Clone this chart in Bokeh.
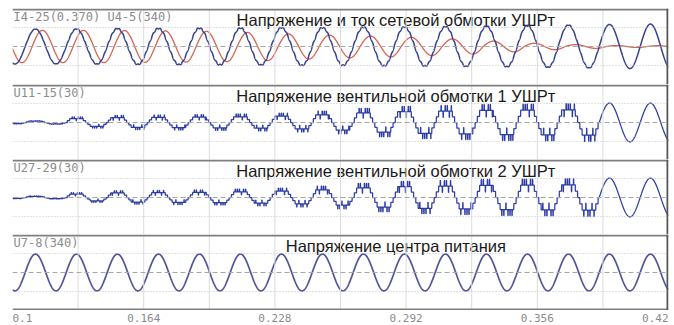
import numpy as np
from bokeh.plotting import figure
from bokeh.layouts import column
from bokeh.models import Range1d, Span
from bokeh.core.properties import value
from bokeh.embed import file_html
from bokeh.resources import INLINE

# ---------------- data ----------------
T_START, T_END = 0.1, 0.42          # time axis, s
FREQ = 50.0                         # Hz
T_PEAK1 = 0.1112                    # first positive peak of the voltages, s
CURRENT_LAG = 0.0034                # lag of the network current, s

TICKS = [0.1, 0.164, 0.228, 0.292, 0.356, 0.42]
TICK_LABELS = ["0.1", "0.164", "0.228", "0.292", "0.356", "0.42"]
GRID_STEP = 0.032

TITLES = [
    "Напряжение и ток сетевой обмотки УШРт",
    "Напряжение вентильной обмотки 1 УШРт",
    "Напряжение вентильной обмотки 2 УШРт",
    "Напряжение центра питания",
]
CHANNELS = ["I4-25(0.370) U4-5(340)", "U11-15(30)", "U27-29(30)", "U7-8(340)"]

# per-cycle amplitudes (divisions), cycles 0..16 (cycle 0 is the partial one at t=0.1)
AMP_NET_U = [0.92, 0.92, 0.93, 0.95, 0.96, 0.97, 0.98, 1.0, 1.0, 1.02, 1.03, 1.05, 1.07, 1.1, 1.13, 1.16, 1.18]
RIPPLE_NET_U = [0.0, 0.01, 0.02, 0.03, 0.035, 0.035, 0.035, 0.035, 0.035, 0.035, 0.035, 0.035, 0.035, 0.03, 0.02, 0.0, 0.0]
AMP_NET_I = [0.85, 0.85, 0.85, 0.84, 0.82, 0.8, 0.74, 0.66, 0.6, 0.55, 0.48, 0.4, 0.28, 0.17, 0.1, 0.05, 0.04]
AMP_VALVE_1 = [0.08, 0.1, 0.3, 0.38, 0.4, 0.42, 0.45, 0.5, 0.6, 0.75, 0.85, 0.9, 0.95, 0.97, 1.0, 1.02, 1.02]
AMP_VALVE_2 = [0.07, 0.09, 0.26, 0.36, 0.38, 0.4, 0.44, 0.5, 0.6, 0.75, 0.85, 0.9, 0.95, 0.97, 1.0, 1.02, 1.02]
STEPPED = [1, 1, 1, 1, 1, 1, 1, 1, 1, 1, 1, 1, 1, 1, 1, 0, 0]
AMP_SUPPLY = [0.97] * 17
# direction of the switching spikes at the crest of each stepped half-wave (+1 outward, -1 inward)
SPIKE_PATTERN = [1, 1, -1, 1, 1, -1, 1]

# ---------------- waveform construction ----------------
DT = 0.00004
t = np.arange(T_START, T_END + DT / 2, DT)
T_ZERO = T_PEAK1 - 0.25 / FREQ


def phase(lag=0.0):
    return 2 * np.pi * FREQ * (t - T_ZERO - lag)


def cycle_index(ph):
    return np.clip(np.floor(ph / (2 * np.pi)).astype(int) + 1, 0, 16)


def sine_wave(amps, lag=0.0, ripple=None):
    ph = phase(lag)
    c = cycle_index(ph)
    y = np.asarray(amps)[c] * np.sin(ph)
    if ripple is not None:
        y = y + np.asarray(ripple)[c] * np.sin(11 * ph)
    return y


def stepped_wave(amps, stepped, shift=0.0):
    ph = phase()
    c = cycle_index(ph)
    s = np.sin(ph)
    a = np.asarray(amps)[c]
    q = np.round(s * 3) / 3
    k = np.floor(t * 1000.0 + shift).astype(int)
    in_pulse = np.mod(t * 1000.0 + shift, 1.0) < 0.18
    direction = np.asarray(SPIKE_PATTERN)[np.mod(k, len(SPIKE_PATTERN))]
    crest = np.abs(s) > 0.6
    level = np.where(in_pulse, np.where(direction > 0, 1.0, 0.3), 0.67)
    v = np.where(crest, np.sign(s) * level, q)
    smooth = np.asarray(stepped)[c] == 0
    return a * np.where(smooth, s, v)


u_net = sine_wave(AMP_NET_U, ripple=RIPPLE_NET_U)
i_net = sine_wave(AMP_NET_I, lag=CURRENT_LAG)
u_v1 = stepped_wave(AMP_VALVE_1, STEPPED)
u_v2 = stepped_wave(AMP_VALVE_2, STEPPED, shift=0.4)
u_sup = sine_wave(AMP_SUPPLY)

# ---------------- layout / styling ----------------
W = 670
PX = 19.0  # pixels per division
x_range = Range1d(T_START, T_END)
grid_x = np.arange(T_START + GRID_STEP, T_END - 1e-9, GRID_STEP)

BLUE = "#37428f"
RED = "#d8634f"
VALVE = "#2c3ca6"
SUPPLY = "#51569a"
MONO = "DejaVu Sans Mono"
BORDER_L, BORDER_R = 12, 2


def panel(height, title, channel, top_pad=0, bottom_border=False):
    top = 38 / PX
    bottom = -(height - 38) / PX
    p = figure(width=W, height=height + top_pad, x_range=x_range, y_range=Range1d(bottom, top),
               output_backend="svg", toolbar_location=None,
               x_axis_location=None, y_axis_location=None,
               min_border_left=BORDER_L, min_border_right=BORDER_R,
               min_border_top=top_pad, min_border_bottom=0)
    p.grid.visible = False
    p.outline_line_color = None
    p.background_fill_color = "white"
    p.border_fill_color = "white"
    for gx in grid_x:
        p.add_layout(Span(location=gx, dimension="height", line_color="#dcdcdc", line_width=1))
    for gy in (-1.0, 1.0):
        p.add_layout(Span(location=gy, dimension="width", line_color="#c4c4c4",
                          line_width=1, line_dash="1 2"))
    p.add_layout(Span(location=0.0, dimension="width", line_color="#a8a8a8",
                      line_width=1, line_dash="5 3"))
    p.add_layout(Span(location=top - 1 / PX, dimension="width", line_color="#7f7f7f", line_width=2))
    if bottom_border:
        p.add_layout(Span(location=bottom + 1 / PX, dimension="width", line_color="#7f7f7f", line_width=2))
    p.add_layout(Span(location=T_END - 1 / 2050, dimension="height", line_color="#555555", line_width=2))
    p.text(x=[T_START + 0.0005], y=[top - 8 / PX], text=[channel], text_font=value(MONO),
           text_font_size="12px", text_color="#8c8c8c", text_baseline="middle", text_align="left")
    p.text(x=[0.287], y=[top - 11 / PX], text=[title], text_font=value("Liberation Sans"),
           text_font_size="16.5px", text_color="#1a1a1a", text_baseline="middle", text_align="center")
    return p


p1 = panel(76, TITLES[0], CHANNELS[0], top_pad=8)
p1.line(t, i_net, line_color=RED, line_width=1.3)
p1.line(t, u_net, line_color=BLUE, line_width=1.5)

p2 = panel(75, TITLES[1], CHANNELS[1])
p2.line(t, u_v1, line_color=VALVE, line_width=1.25)

p3 = panel(75, TITLES[2], CHANNELS[2])
p3.line(t, u_v2, line_color=VALVE, line_width=1.25)

p4 = panel(76, TITLES[3], CHANNELS[3], bottom_border=True)
p4.line(t, u_sup, line_color=SUPPLY, line_width=1.7)

# tick-label strip
ax = figure(width=W, height=15, x_range=x_range, y_range=Range1d(0, 1),
            output_backend="svg", toolbar_location=None,
            x_axis_location=None, y_axis_location=None,
            min_border_left=BORDER_L, min_border_right=BORDER_R, min_border_top=0, min_border_bottom=0)
ax.grid.visible = False
ax.outline_line_color = None
ax.background_fill_color = "white"
ax.border_fill_color = "white"
lab_kw = dict(text_font=value(MONO), text_font_size="11px", text_color="#8a8a8a", text_baseline="middle")
ax.text(x=TICKS[:1], y=[0.5], text=TICK_LABELS[:1], text_align="left", **lab_kw)
ax.text(x=TICKS[1:-1], y=[0.5] * (len(TICKS) - 2), text=TICK_LABELS[1:-1], text_align="center", **lab_kw)
ax.text(x=TICKS[-1:], y=[0.5], text=TICK_LABELS[-1:], text_align="right", **lab_kw)

layout = column(p1, p2, p3, p4, ax, spacing=0)

open("out.html", "w").write(file_html(layout, INLINE))
